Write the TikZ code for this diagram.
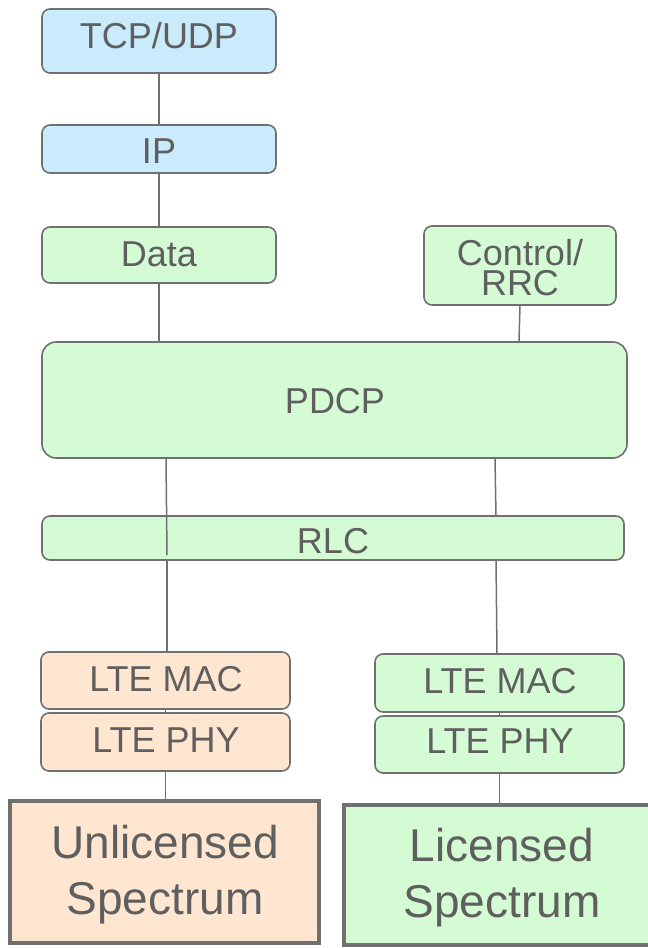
\documentclass[tikz,border=0pt]{standalone}
\usepackage{fontspec}
\setmainfont{Liberation Sans}
\definecolor{bd}{HTML}{707070}
\definecolor{tx}{HTML}{5F5F5F}
\definecolor{bl}{HTML}{C9EBFB}
\definecolor{gr}{HTML}{D4FBD4}
\definecolor{orf}{HTML}{FFE6D1}
\begin{document}
\begin{tikzpicture}[x=1pt,y=-1pt,
  box/.style={draw=bd, line width=1.6pt, rounded corners=8pt, inner sep=0pt, outer sep=0pt},
  bigbox/.style={draw=bd, line width=4pt, inner sep=0pt, outer sep=0pt},
  txt/.style={text=tx, font=\fontsize{36}{36}\selectfont, inner sep=0pt, anchor=base},
  bigtxt/.style={text=tx, font=\fontsize{46}{46}\selectfont, inner sep=0pt, anchor=base},
  conn/.style={draw=bd, line width=1.5pt}]
\useasboundingbox (0,0) rectangle (648,948);
\clip (0,0) rectangle (648,948);
% boxes
\node[box, fill=bl, minimum width=234pt, minimum height=64pt] (tcp) at (159,41) {};
\node[box, fill=bl, minimum width=234pt, minimum height=48pt] (ip) at (159,149) {};
\node[box, fill=gr, minimum width=234pt, minimum height=56pt] (data) at (159,255) {};
\node[box, fill=gr, minimum width=192pt, minimum height=79pt] (ctrl) at (520,265.5) {};
\node[box, fill=gr, rounded corners=14pt, minimum width=585pt, minimum height=116pt] (pdcp) at (334.5,400) {};
\node[box, fill=gr, minimum width=582pt, minimum height=44pt] (rlc) at (333,538) {};
\node[box, fill=orf, minimum width=249pt, minimum height=57pt] (lmac) at (165.5,680.5) {};
\node[box, fill=orf, minimum width=249pt, minimum height=58pt] (lphy) at (165.5,742) {};
\node[box, fill=gr, minimum width=249pt, minimum height=58pt] (rmac) at (499.5,683) {};
\node[box, fill=gr, minimum width=249pt, minimum height=57pt] (rphy) at (499.5,744.5) {};
\node[bigbox, fill=orf, minimum width=309pt, minimum height=142pt] (unlic) at (164.5,872) {};
\node[bigbox, fill=gr, minimum width=316pt, minimum height=140pt] (lic) at (502,875) {};
% texts
\node[txt] (tcpT) at (159,48) {TCP/UDP};
\node[txt] (ipT) at (159,163) {IP};
\node[txt] (dataT) at (159,266) {Data};
\node[text=tx, inner sep=0pt, align=center, font=\fontsize{36}{30}\selectfont, anchor=center] (ctrlT) at (520,268) {Control/\\RRC};
\node[txt] (pdcpT) at (335,413) {PDCP};
\node[txt] (rlcT) at (333,553) {RLC};
\node[txt] (lmacT) at (166,691) {LTE MAC};
\node[txt] (lphyT) at (166,752) {LTE PHY};
\node[txt] (rmacT) at (500,693) {LTE MAC};
\node[txt] (rphyT) at (500,753) {LTE PHY};
\node[bigtxt] (unlicT) at (165,858) {Unlicensed};
\node[bigtxt] (unlicT2) at (165,914) {Spectrum};
\node[bigtxt] (licT) at (502,861) {Licensed};
\node[bigtxt] (licT2) at (502,917) {Spectrum};
% connectors
\draw[conn] (tcp.south) -- (ip.north);
\draw[conn] (ip.south) -- (data.north);
\draw[conn] (data.south) -- (data.south |- pdcp.north);
\coordinate (c1) at (519,342);
\draw[conn] (ctrl.south) -- (c1);
\coordinate (l1) at (166,458);
\coordinate (l2) at (167,555);
\coordinate (l3) at (167,560);
\draw[conn] (l1) -- (l2);
\draw[conn] (l3) -- (l3 |- lmac.north);
\coordinate (r1) at (495,458);
\coordinate (r2) at (496,516);
\coordinate (r3) at (496,560);
\coordinate (r4) at (497,654);
\draw[conn] (r1) -- (r2);
\draw[conn] (r3) -- (r4);
\draw[conn] (lmac.south) -- (lphy.north);
\draw[conn] (rmac.south) -- (rphy.north);
\draw[conn] (lphy.south) -- (lphy.south |- unlic.north);
\draw[conn] (rphy.south) -- (rphy.south |- lic.north);
\end{tikzpicture}
\end{document}
